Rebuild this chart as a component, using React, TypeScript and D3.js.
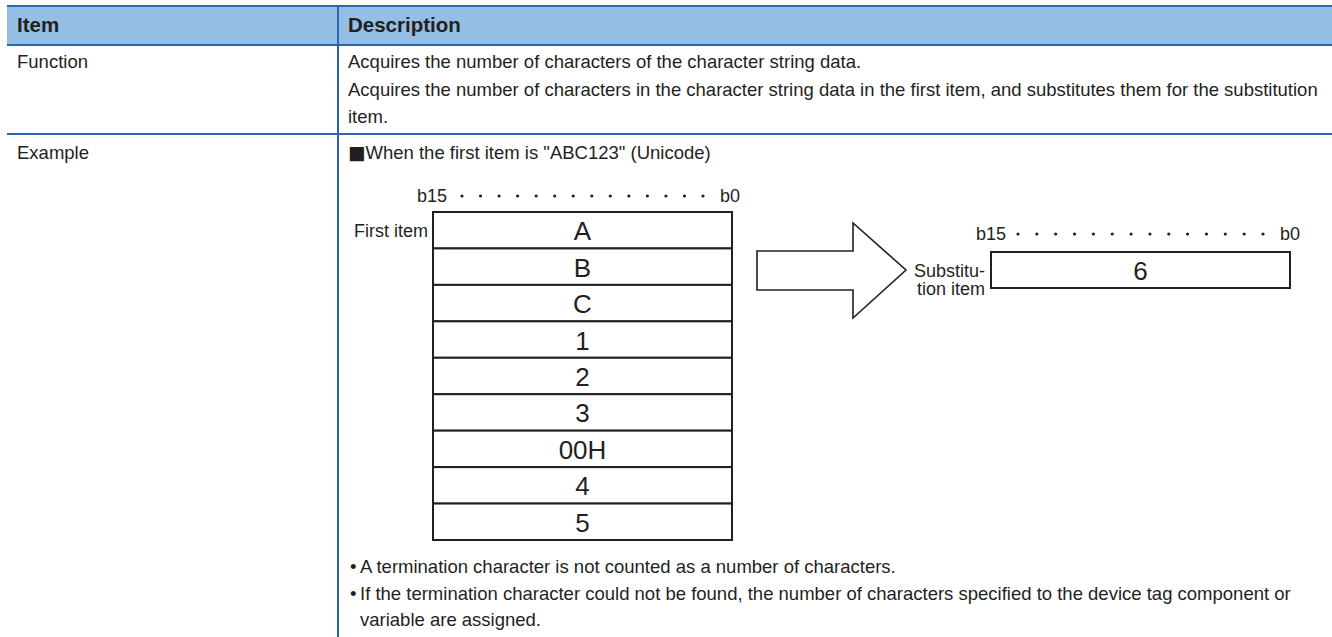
import * as d3 from "d3";

// table content
const HEADERS = ["Item", "Description"];
const ITEMS = ["Function", "Example"];
const FUNCTION_LINES = [
  "Acquires the number of characters of the character string data.",
  "Acquires the number of characters in the character string data in the first item, and substitutes them for the substitution",
  "item.",
];
const EXAMPLE_TITLE = "When the first item is \"ABC123\" (Unicode)";
const FIRST_ITEM_CHARS = ["A", "B", "C", "1", "2", "3", "00H", "4", "5"];
const RESULT = ["6"];
const BIT_LABELS = ["b15", "b0"];
const NOTES = [
  ["A termination character is not counted as a number of characters."],
  [
    "If the termination character could not be found, the number of characters specified to the device tag component or",
    "variable are assigned.",
  ],
];

const W = 1332;
const H = 637;
const FONT = "'Liberation Sans', Arial, sans-serif";
const BLUE = "#2f62b0";
const INK = "#231f20";
const BODY = 18.5;

function BitRuler({ x0, x1, dot0, dot1, y }: { x0: number; x1: number; dot0: number; dot1: number; y: number }) {
  const dots = d3.scalePoint<number>().domain(d3.range(14)).range([dot0, dot1]);
  return (
    <g fontSize={18} fill={INK}>
      <text x={x0} y={y}>{BIT_LABELS[0]}</text>
      {dots.domain().map((i) => (
        <circle key={i} cx={dots(i)} cy={y - 6} r={1.6} fill={INK} />
      ))}
      <text x={x1} y={y} textAnchor="end">{BIT_LABELS[1]}</text>
    </g>
  );
}

export default function App() {
  const colX = [7, 338];
  const rowY = d3.scaleOrdinal<string, number>().domain(["head", ...ITEMS, "end"]).range([6, 45, 134, H]);

  // first-item word stack
  const box = { x: 433, w: 299 };
  const y = d3.scaleBand().domain(FIRST_ITEM_CHARS).range([212, 540]);
  const res = { x: 991, w: 299, y0: 252, y1: 288 };
  const resY = d3.scaleBand().domain(RESULT).range([res.y0, res.y1]);

  const arrow = d3.line()([
    [757, 251], [853, 251], [853, 223], [906, 270], [853, 318], [853, 290], [757, 290],
  ]) + "Z";

  return (
    <svg width={W} height={H} style={{ position: "absolute", left: 0, top: 0, background: "#fff" }} fontFamily={FONT}>
      {/* header */}
      <rect x={colX[0]} y={rowY("head")} width={W - colX[0]} height={rowY("Function") - rowY("head")} fill="#94bee4" />
      <g fontSize={20.5} fontWeight="bold" fill={INK}>
        <text x={17} y={32}>{HEADERS[0]}</text>
        <text x={348} y={32}>{HEADERS[1]}</text>
      </g>

      {/* grid */}
      <g stroke={BLUE} strokeWidth={2}>
        {["head", "Function", "Example"].map((k) => (
          <line key={k} x1={colX[0]} x2={W} y1={rowY(k)} y2={rowY(k)} />
        ))}
        <line x1={colX[1]} x2={colX[1]} y1={rowY("head")} y2={H} />
      </g>

      {/* item column */}
      <g fontSize={BODY} fill={INK}>
        <text x={17} y={68}>{ITEMS[0]}</text>
        <text x={17} y={159}>{ITEMS[1]}</text>
      </g>

      {/* function description */}
      <g fontSize={BODY} fill={INK}>
        {FUNCTION_LINES.map((t, i) => (
          <text key={i} x={348} y={68 + i * 27.5}>{t}</text>
        ))}
        <text x={348} y={159}>
          <tspan fontFamily="'DejaVu Sans', sans-serif">■</tspan>
          {EXAMPLE_TITLE}
        </text>
      </g>

      {/* diagram: first item */}
      <BitRuler x0={417} x1={740} dot0={462} dot1={703} y={202} />
      <text x={428} y={237} fontSize={18} textAnchor="end" fill={INK}>First item</text>
      <g>
        {FIRST_ITEM_CHARS.map((c) => (
          <g key={c}>
            <rect x={box.x} y={y(c)} width={box.w} height={y.bandwidth()} fill="#fff" stroke={INK} strokeWidth={2} />
            <text x={box.x + box.w / 2} y={(y(c) ?? 0) + y.bandwidth() / 2 + 10} fontSize={26} textAnchor="middle" fill={INK}>{c}</text>
          </g>
        ))}
      </g>

      {/* arrow */}
      <path d={arrow} fill="#fff" stroke={INK} strokeWidth={1.6} strokeLinejoin="miter" />

      {/* diagram: substitution item */}
      <BitRuler x0={976} x1={1300} dot0={1018} dot1={1263} y={240} />
      <g fontSize={18} fill={INK} textAnchor="end">
        <text x={985} y={277}>Substitu-</text>
        <text x={985} y={295}>tion item</text>
      </g>
      {RESULT.map((v) => (
        <g key={v}>
          <rect x={res.x} y={resY(v)} width={res.w} height={resY.bandwidth()} fill="#fff" stroke={INK} strokeWidth={2} />
          <text x={res.x + res.w / 2} y={(resY(v) ?? 0) + resY.bandwidth() / 2 + 10} fontSize={26} textAnchor="middle" fill={INK}>{v}</text>
        </g>
      ))}

      {/* notes */}
      <g fontSize={BODY} fill={INK}>
        {NOTES.flatMap((lines, i) =>
          lines.map((t, j) => {
            const yy = 573 + (i === 0 ? 0 : 26.5 + j * 26.5);
            return (
              <g key={`${i}-${j}`}>
                {j === 0 && <text x={350} y={yy}>•</text>}
                <text x={360} y={yy}>{t}</text>
              </g>
            );
          })
        )}
      </g>
    </svg>
  );
}
